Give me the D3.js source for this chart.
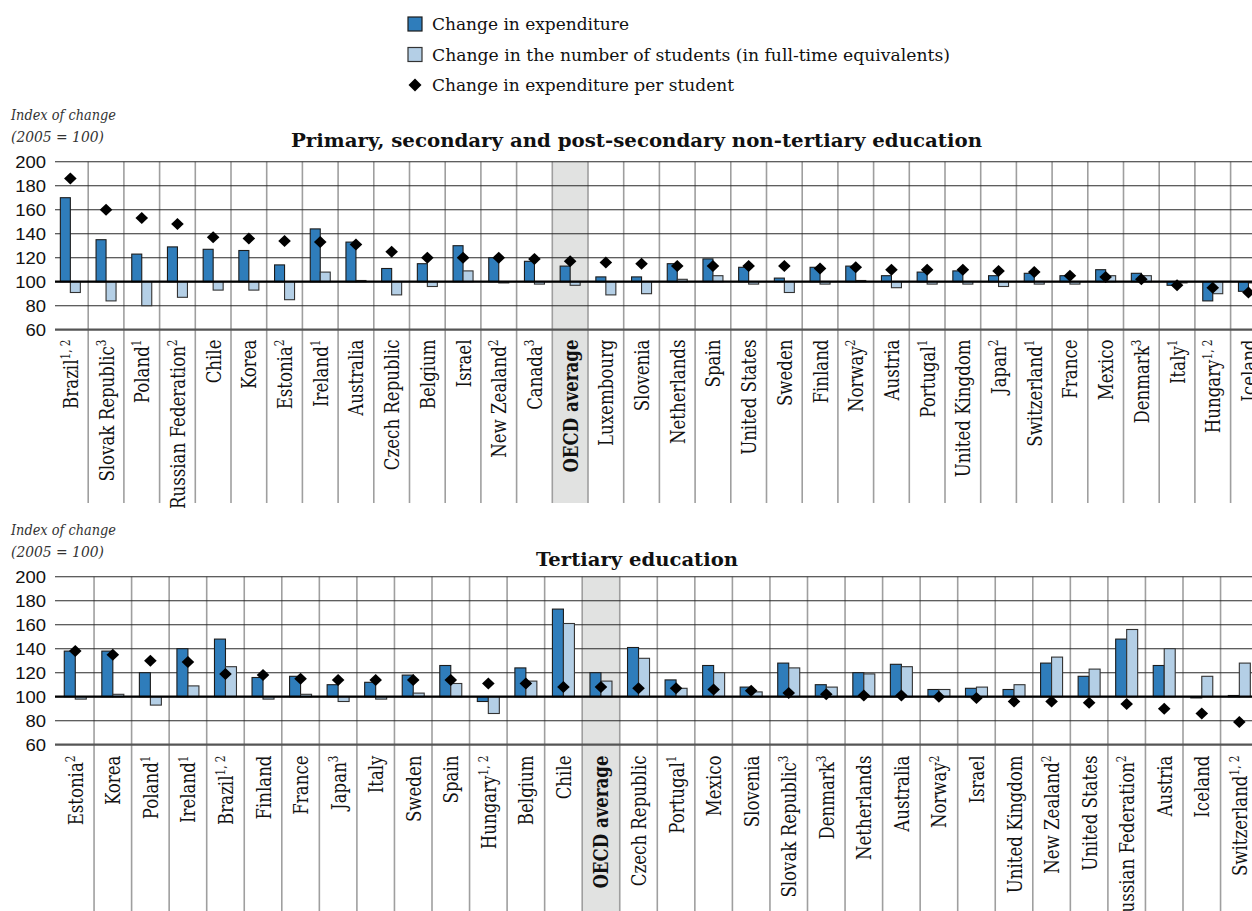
<!DOCTYPE html>
<html><head><meta charset="utf-8">
<script src="https://cdn.jsdelivr.net/npm/d3@7"></script>
<style>body{margin:0;background:#fff;overflow:hidden}</style>
</head><body>
<svg id="c" width="1252" height="911"></svg>
<script>
// ---------- DATA ----------
const yTicks = [60, 80, 100, 120, 140, 160, 180, 200];
const legendLabels = ["Change in expenditure",
  "Change in the number of students (in full-time equivalents)",
  "Change in expenditure per student"];
const axisTitleLines = ["Index of change", "(2005 = 100)"];
const topTitle = "Primary, secondary and post-secondary non-tertiary education";
const bottomTitle = "Tertiary education";

const topCountries = ["Brazil","Slovak Republic","Poland","Russian Federation","Chile","Korea","Estonia","Ireland","Australia","Czech Republic","Belgium","Israel","New Zealand","Canada","OECD average","Luxembourg","Slovenia","Netherlands","Spain","United States","Sweden","Finland","Norway","Austria","Portugal","United Kingdom","Japan","Switzerland","France","Mexico","Denmark","Italy","Hungary","Iceland"];
const topNotes = ["1, 2","3","1","2","","","2","1","","","","","2","3","","","","","","","","","2","","1","","2","1","","","3","1","1, 2",""];
const topExpenditure = [170,135,123,129,127,126,114,144,133,111,115,130,120,117,113,104,104,115,119,112,103,112,113,105,108,109,105,107,105,110,107,97,84,92];
const topStudents = [91,84,80,87,93,93,85,108,101,89,96,109,99,98,97,89,90,102,105,98,91,98,101,95,98,98,96,98,98,105,105,99,90,99];
const topPerStudent = [186,160,153,148,137,136,134,133,131,125,120,120,120,119,117,116,115,113,113,113,113,111,112,110,110,110,109,108,105,104,102,97,95,91];

const bottomCountries = ["Estonia","Korea","Poland","Ireland","Brazil","Finland","France","Japan","Italy","Sweden","Spain","Hungary","Belgium","Chile","OECD average","Czech Republic","Portugal","Mexico","Slovenia","Slovak Republic","Denmark","Netherlands","Australia","Norway","Israel","United Kingdom","New Zealand","United States","Russian Federation","Austria","Iceland","Switzerland"];
const bottomNotes = ["2","","1","1","1, 2","","","3","","","","1, 2","","","","","1","","","3","3","","","2","","","2","","2","","","1, 2"];
const bottomExpenditure = [138,138,120,140,148,116,117,110,112,118,126,96,124,173,120,141,114,126,108,128,110,120,127,106,107,106,128,117,148,126,99,101];
const bottomStudents = [98,102,93,109,125,98,102,96,98,103,111,86,113,161,113,132,107,120,104,124,108,119,125,106,108,110,133,123,156,140,117,128];
const bottomPerStudent = [138,135,130,129,119,118,115,114,114,114,114,111,111,108,108,107,107,106,105,103,102,101,101,100,99,96,96,95,94,90,86,79];

// ---------- STYLE ----------
const DARK = "#2f7dbb", LIGHT = "#b4cfe6", OUT = "#1c1c1c";
const SERIF = "'DejaVu Serif', serif";
const SX = 1.2; // horizontal stretch of the original artwork
const svg = d3.select("#c");
const W = 1252;

function panel(cfg) {
  const g = svg.append("g");
  const x = d3.scaleBand().domain(cfg.countries)
    .range([cfg.x0, cfg.x0 + cfg.countries.length * cfg.step]).padding(0);
  const y = d3.scaleLinear().domain([60, 200]).range([cfg.y60, cfg.y60 - 140 * 1.2]);
  const bw = x.bandwidth();
  const cx = c => x(c) + bw / 2;

  // OECD band
  g.append("rect").attr("x", x("OECD average")).attr("width", bw)
    .attr("y", y(200)).attr("height", cfg.labelBottom - y(200)).attr("fill", "#e1e2e1");

  // vertical gridlines (category boundaries)
  const bounds = d3.range(1, cfg.countries.length + 1).map(i => cfg.x0 + i * cfg.step);
  g.selectAll(".vg").data(bounds).join("line")
    .attr("x1", d => d).attr("x2", d => d)
    .attr("y1", y(200)).attr("y2", cfg.labelBottom)
    .attr("stroke", "#9f9f9f").attr("stroke-width", 1.6);

  // horizontal gridlines
  g.selectAll(".hg").data(yTicks).join("line")
    .attr("x1", 55).attr("x2", W)
    .attr("y1", d => y(d)).attr("y2", d => y(d))
    .attr("stroke", d => d === 60 ? "#555" : "#2a2a2a")
    .attr("stroke-width", d => d === 60 ? 2.2 : 1.1);

  // tick labels
  g.selectAll(".tl").data(yTicks).join("text")
    .attr("transform", d => `translate(46,${y(d) + 6}) scale(1.12,1)`)
    .attr("text-anchor", "end")
    .attr("font-family", "'Liberation Sans', Arial, sans-serif")
    .attr("font-size", 16.5).attr("fill", "#111").text(d => d);

  const bar = cfg.barW;
  g.selectAll(".b1").data(cfg.countries).join("rect")
    .attr("x", c => cx(c) - bar)
    .attr("width", bar)
    .attr("y", (c, i) => y(Math.max(cfg.exp[i], 100)))
    .attr("height", (c, i) => Math.abs(y(cfg.exp[i]) - y(100)))
    .attr("fill", DARK).attr("stroke", OUT).attr("stroke-width", 1.1);
  g.selectAll(".b2").data(cfg.countries).join("rect")
    .attr("x", c => cx(c))
    .attr("width", bar)
    .attr("y", (c, i) => y(Math.max(cfg.stu[i], 100)))
    .attr("height", (c, i) => Math.abs(y(cfg.stu[i]) - y(100)))
    .attr("fill", LIGHT).attr("stroke", "#333").attr("stroke-width", 1.1);

  // 100 baseline
  g.append("line").attr("x1", 55).attr("x2", W).attr("y1", y(100)).attr("y2", y(100))
    .attr("stroke", "#000").attr("stroke-width", 2.2);

  // diamonds
  g.selectAll(".dm").data(cfg.countries).join("path")
    .attr("d", "M0,-6L6.3,0L0,6L-6.3,0Z")
    .attr("transform", (c, i) => `translate(${cx(c)},${y(cfg.per[i])})`)
    .attr("fill", "#000");

  // category labels
  const lab = g.selectAll(".cl").data(cfg.countries).join("text")
    .attr("transform", c => `translate(${cx(c) + 7.5},${cfg.labelTop}) scale(${SX},1) rotate(-90)`)
    .attr("text-anchor", "end")
    .attr("font-family", SERIF).attr("font-size", 16.6)
    .attr("font-weight", c => c === "OECD average" ? "bold" : "normal")
    .attr("fill", "#111");
  lab.append("tspan").text(c => c);
  lab.append("tspan").attr("dy", -6.5).attr("font-size", 10.5)
    .text((c, i) => cfg.notes[i]);

  // titles
  svg.append("text").attr("x", cfg.titleX).attr("y", cfg.titleY)
    .attr("font-family", SERIF).attr("font-weight", "bold").attr("font-size", 18.5)
    .attr("textLength", cfg.titleLen).attr("lengthAdjust", "spacingAndGlyphs")
    .attr("fill", "#111").text(cfg.title);
  axisTitleLines.forEach((t, i) => {
    svg.append("text").attr("x", 11).attr("y", cfg.axisY + i * 22)
      .attr("font-family", SERIF).attr("font-style", "italic").attr("font-size", 15)
      .attr("textLength", i === 0 ? 105 : 93).attr("lengthAdjust", "spacingAndGlyphs")
      .attr("fill", "#333").text(t);
  });
}

panel({countries: topCountries, notes: topNotes, exp: topExpenditure, stu: topStudents, per: topPerStudent,
  x0: 52.5, step: 35.7, y60: 329.7, barW: 10, labelTop: 339.5, labelBottom: 503,
  title: topTitle, titleX: 291, titleY: 147, titleLen: 691, axisY: 120});
panel({countries: bottomCountries, notes: bottomNotes, exp: bottomExpenditure, stu: bottomStudents, per: bottomPerStudent,
  x0: 56.5, step: 37.55, y60: 744.7, barW: 11, labelTop: 755.5, labelBottom: 911,
  title: bottomTitle, titleX: 536, titleY: 566, titleLen: 202, axisY: 535});

// legend
const lg = svg.append("g");
const rowY = [24, 54.5, 85];
lg.append("rect").attr("x", 408).attr("y", rowY[0] - 7).attr("width", 14).attr("height", 14)
  .attr("fill", DARK).attr("stroke", OUT).attr("stroke-width", 1.2);
lg.append("rect").attr("x", 408).attr("y", rowY[1] - 7).attr("width", 14).attr("height", 14)
  .attr("fill", LIGHT).attr("stroke", "#333").attr("stroke-width", 1.2);
lg.append("path").attr("d", "M0,-6.5L6.5,0L0,6.5L-6.5,0Z")
  .attr("transform", `translate(415,${rowY[2]})`).attr("fill", "#000");
const legLens = [197, 518, 302];
legendLabels.forEach((t, i) => {
  lg.append("text").attr("x", 432).attr("y", rowY[i] + 6)
    .attr("font-family", SERIF).attr("font-size", 17)
    .attr("textLength", legLens[i]).attr("lengthAdjust", "spacingAndGlyphs")
    .attr("fill", "#111").text(t);
});
</script>
</body></html>
